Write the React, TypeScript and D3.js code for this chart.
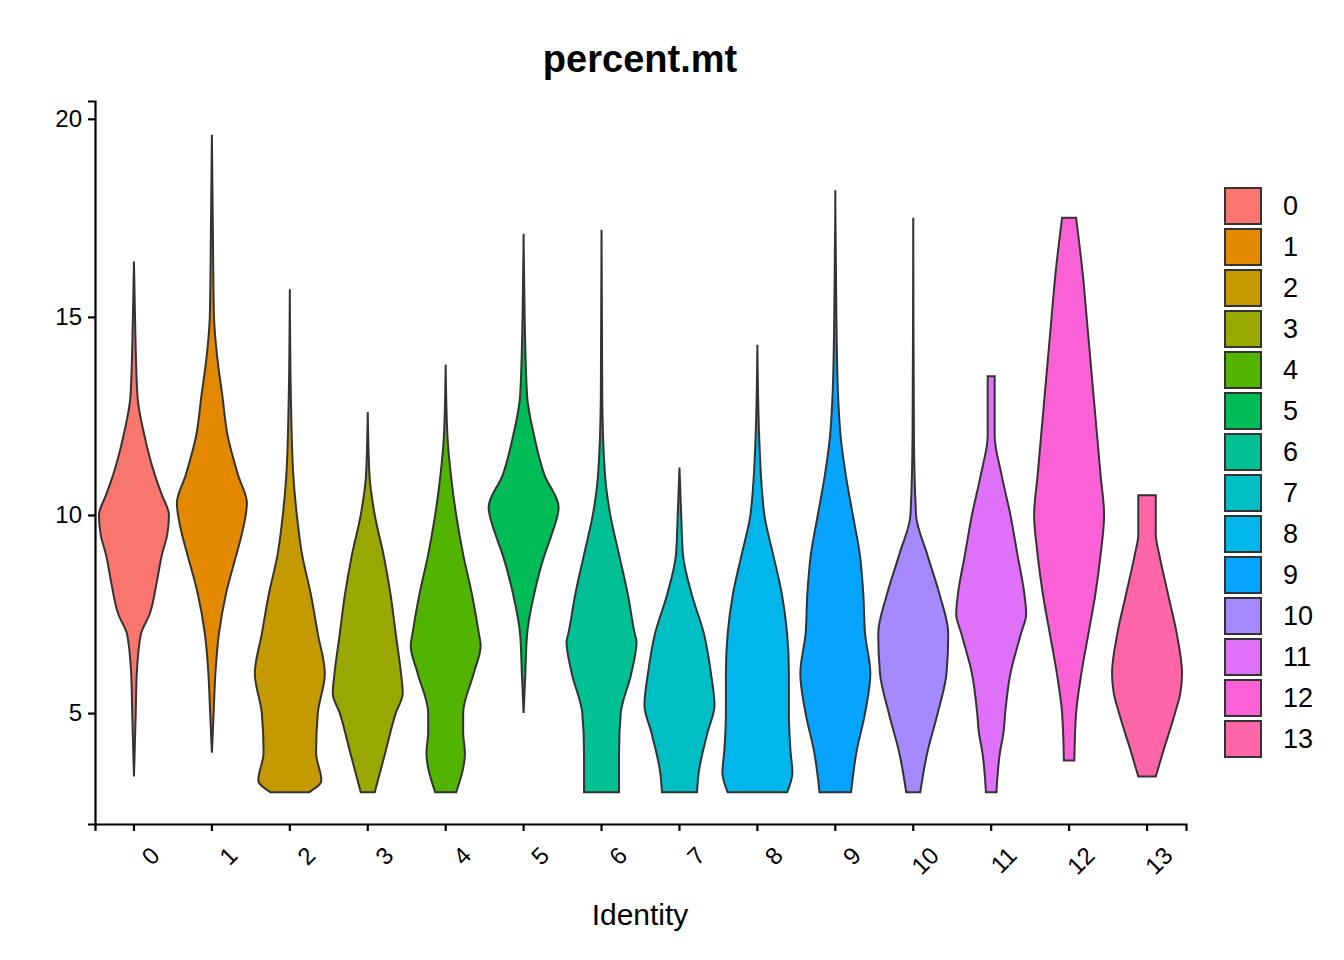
import { useEffect, useRef } from "react";
import * as d3 from "d3";

const categories = ["0", "1", "2", "3", "4", "5", "6", "7", "8", "9", "10", "11", "12", "13"];
const colors = ["#F8766D", "#E38900", "#C49A00", "#99A800", "#53B400", "#00BC56", "#00C094",
  "#00BFC4", "#00B6EB", "#06A4FF", "#A58AFF", "#DF70F8", "#FB61D7", "#FF66A8"];
const yTicks = [5, 10, 15, 20];

// [value, relative half-width] from bottom to top
const profiles: [number, number][][] = [
  [[3.4, 0], [5, 0.05], [6, 0.08], [7, 0.2], [7.5, 0.45], [8.3, 0.65], [9, 0.8], [9.5, 0.95], [10, 1], [10.5, 0.8], [11, 0.6], [12, 0.3], [13, 0.1], [15, 0.03], [16.4, 0]],
  [[4, 0], [5, 0.05], [6, 0.1], [7, 0.2], [8, 0.4], [9, 0.7], [9.5, 0.85], [10.3, 1], [11, 0.75], [12, 0.45], [13, 0.3], [14, 0.15], [15, 0.06], [17, 0.03], [19.6, 0]],
  [[3, 0.55], [3.3, 0.9], [4, 0.75], [5, 0.8], [6, 1], [7, 0.8], [8, 0.6], [9, 0.35], [10, 0.2], [11, 0.1], [13, 0.03], [15.7, 0]],
  [[3, 0.2], [4, 0.5], [5, 0.8], [5.5, 1], [6, 0.95], [7, 0.8], [8, 0.65], [9, 0.45], [10, 0.2], [11, 0.05], [12.6, 0]],
  [[3, 0.3], [4, 0.55], [4.5, 0.5], [5, 0.5], [6, 0.8], [6.7, 1], [7, 0.95], [8, 0.75], [9, 0.5], [10, 0.3], [11, 0.15], [12, 0.05], [13.8, 0]],
  [[5, 0], [6, 0.05], [7, 0.1], [8, 0.3], [9, 0.6], [9.5, 0.8], [10.2, 1], [11, 0.6], [12, 0.3], [13, 0.1], [15, 0.03], [17.1, 0]],
  [[3, 0.5], [4, 0.5], [5, 0.55], [6, 0.85], [6.8, 1], [7, 0.95], [8, 0.75], [9, 0.5], [10, 0.25], [11, 0.1], [13, 0.02], [17.2, 0]],
  [[3, 0.5], [3.5, 0.55], [4.5, 0.8], [5.2, 1], [6, 0.9], [7, 0.7], [8, 0.35], [9, 0.1], [10, 0.05], [11.2, 0]],
  [[3, 0.85], [3.5, 1], [4, 0.95], [5, 0.9], [6, 0.9], [7, 0.85], [8, 0.7], [9, 0.45], [10, 0.2], [12, 0.05], [14.3, 0]],
  [[3, 0.45], [4, 0.6], [5, 0.85], [6, 1], [7, 0.85], [8, 0.8], [9, 0.7], [10, 0.5], [11, 0.3], [12, 0.15], [13, 0.08], [15, 0.03], [18.2, 0]],
  [[3, 0.2], [4, 0.4], [5, 0.7], [6, 0.95], [7, 1], [8, 0.75], [9, 0.4], [10, 0.08], [12, 0.02], [17.5, 0]],
  [[3, 0.15], [4, 0.25], [4.5, 0.35], [5, 0.4], [6, 0.55], [7, 0.85], [7.5, 1], [8, 0.95], [9, 0.75], [10, 0.55], [11, 0.3], [12, 0.1], [13.5, 0.1]],
  [[3.8, 0.15], [5, 0.2], [6, 0.35], [7, 0.55], [8, 0.75], [9, 0.9], [10, 1], [11, 0.9], [13, 0.7], [15, 0.5], [16, 0.4], [17.5, 0.2]],
  [[3.4, 0.25], [4, 0.45], [5, 0.8], [5.5, 0.95], [6, 1], [7, 0.85], [8, 0.6], [9, 0.35], [9.5, 0.25], [10.5, 0.25]],
];

export default function App() {
  const ref = useRef<SVGSVGElement>(null);

  useEffect(() => {
    const svg = d3.select(ref.current);
    svg.selectAll("*").remove();
    const font = "Liberation Sans, Arial, sans-serif";
    const left = 87, right = 1178, top = 93, bottom = 816;

    const x = d3.scaleBand().domain(categories).range([left, right]).padding(0);
    const y = d3.scaleLinear().domain([2.2, 20.45]).range([bottom, top]);
    const halfMax = 35;

    const g = svg.append("g");
    profiles.forEach((p, i) => {
      const cx = x(categories[i])! + x.bandwidth() / 2;
      const rightSide = p.map(([v, w]) => [cx + w * halfMax, y(v)] as [number, number]);
      const leftSide = p.slice().reverse().map(([v, w]) => [cx - w * halfMax, y(v)] as [number, number]);
      const line = d3.line().curve(d3.curveMonotoneY);
      const d = line(rightSide)! + "L" + (line(leftSide)!).slice(1) + "Z";
      g.append("path").attr("d", d).attr("fill", colors[i])
        .attr("stroke", "#333").attr("stroke-width", 2);
    });

    const yAxis = svg.append("g").attr("transform", `translate(${left},0)`)
      .call(d3.axisLeft(y).tickValues(yTicks).tickSize(7).tickPadding(6));
    const xAxis = svg.append("g").attr("transform", `translate(0,${bottom})`)
      .call(d3.axisBottom(x).tickSize(7).tickPadding(6));
    [yAxis, xAxis].forEach(a => {
      a.select(".domain").attr("stroke", "#000").attr("stroke-width", 2.2);
      a.selectAll(".tick line").attr("stroke", "#000").attr("stroke-width", 2.2);
      a.selectAll("text").attr("fill", "#000").style("font-size", "24px").style("font-family", font);
    });
    xAxis.selectAll("text")
      .attr("text-anchor", "end").attr("dy", "0.35em")
      .attr("transform", "translate(12,18) rotate(-45)");

    svg.append("text").attr("x", 632).attr("y", 64).attr("text-anchor", "middle")
      .style("font-family", font).style("font-size", "38px").style("font-weight", "bold").text("percent.mt");
    svg.append("text").attr("x", 632).attr("y", 917).attr("text-anchor", "middle")
      .style("font-family", font).style("font-size", "30px").text("Identity");

    const lg = svg.append("g");
    categories.forEach((c, i) => {
      const yy = 180 + i * 41;
      lg.append("rect").attr("x", 1217).attr("y", yy).attr("width", 36).attr("height", 36)
        .attr("fill", colors[i]).attr("stroke", "#333").attr("stroke-width", 2);
      lg.append("text").attr("x", 1275).attr("y", yy + 18).attr("dy", "0.35em")
        .style("font-family", font).style("font-size", "27px").text(c);
    });
  }, []);

  return <svg ref={ref} width={1328} height={944} style={{ display: "block", background: "#fff" }} />;
}
